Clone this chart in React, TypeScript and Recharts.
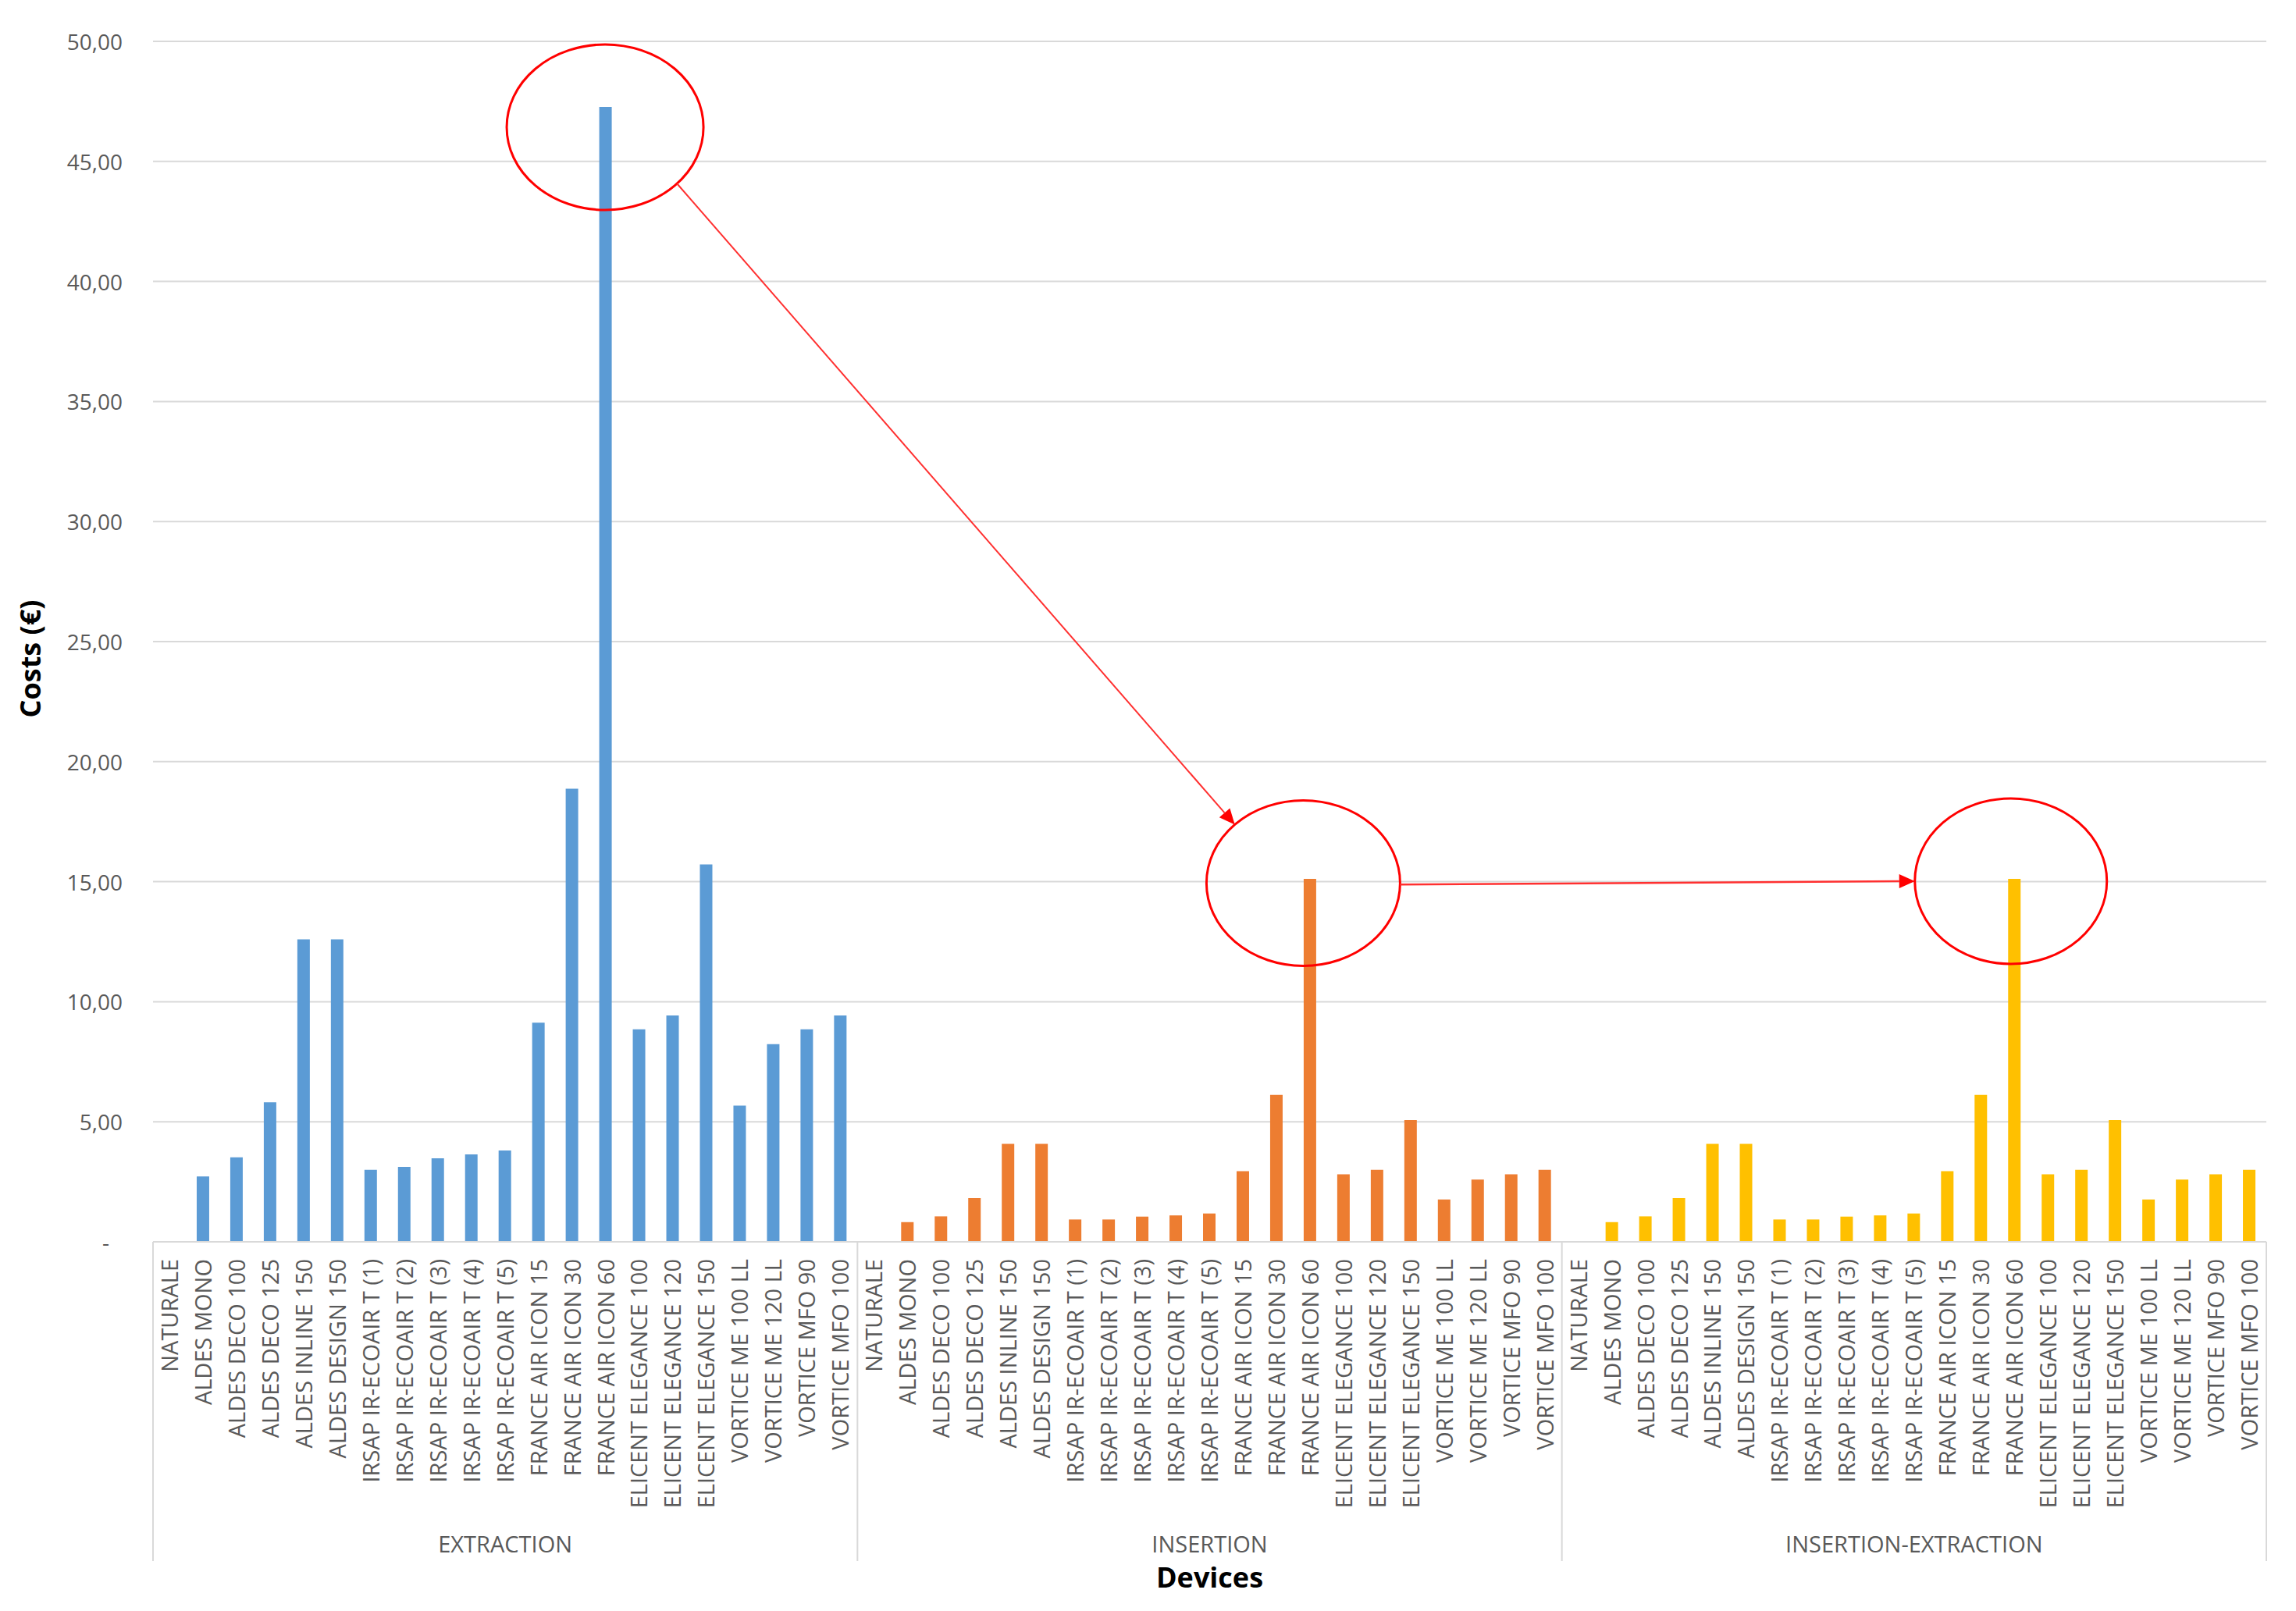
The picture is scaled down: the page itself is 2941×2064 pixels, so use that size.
import React from 'react';
import { BarChart, Bar, XAxis, YAxis, CartesianGrid, Cell, ReferenceDot } from 'recharts';

const devices = [
  'NATURALE', 'ALDES MONO', 'ALDES DECO 100', 'ALDES DECO 125', 'ALDES INLINE 150', 'ALDES DESIGN 150',
  'IRSAP IR-ECOAIR T (1)', 'IRSAP IR-ECOAIR T (2)', 'IRSAP IR-ECOAIR T (3)', 'IRSAP IR-ECOAIR T (4)', 'IRSAP IR-ECOAIR T (5)',
  'FRANCE AIR ICON 15', 'FRANCE AIR ICON 30', 'FRANCE AIR ICON 60',
  'ELICENT ELEGANCE 100', 'ELICENT ELEGANCE 120', 'ELICENT ELEGANCE 150',
  'VORTICE ME 100 LL', 'VORTICE ME 120 LL', 'VORTICE MFO 90', 'VORTICE MFO 100',
];
const groups = ['EXTRACTION', 'INSERTION', 'INSERTION-EXTRACTION'];
const groupColors = ['#5B9BD5', '#ED7D31', '#FFC000'];

const extraction = [0, 2.72, 3.52, 5.81, 12.6, 12.6, 3.0, 3.12, 3.48, 3.64, 3.8, 9.13, 18.87, 47.27, 8.85, 9.43, 15.72, 5.67, 8.23, 8.85, 9.43];
const insertion = [0, 0.82, 1.06, 1.82, 4.08, 4.08, 0.93, 0.93, 1.05, 1.1, 1.18, 2.94, 6.12, 15.12, 2.81, 3.0, 5.07, 1.76, 2.59, 2.81, 3.0];
const insertionExtraction = [0, 0.82, 1.06, 1.82, 4.08, 4.08, 0.93, 0.93, 1.05, 1.1, 1.18, 2.94, 6.12, 15.12, 2.81, 3.0, 5.07, 1.76, 2.59, 2.81, 3.0];
const yTicks = [0, 5, 10, 15, 20, 25, 30, 35, 40, 45, 50];

const seriesByGroup = [extraction, insertion, insertionExtraction];
const data = groups.flatMap((g, gi) =>
  devices.map((d, di) => ({ key: `${g}|${d}`, group: gi, value: seriesByGroup[gi][di] }))
);

const W = 2941;
const H = 2064;
const MARGIN = { top: 53, right: 38, left: 0, bottom: 0 };
const Y_AXIS_W = 196;
const X_AXIS_H = 473;
const BAND = (W - MARGIN.left - MARGIN.right - Y_AXIS_W) / data.length;
const FONT = "'Open Sans', sans-serif";
const TEXT = '#595959';
const GRID = '#d9d9d9';
const RED = '#ff0000';

const XTick = (props: any) => {
  const { x, y, payload, index } = props;
  const [grp, name] = String(payload.value).split('|');
  const n = devices.length;
  const parts: any[] = [];
  parts.push(
    <text key="t" transform={`translate(${x}, ${y + 22}) rotate(-90)`} textAnchor="end" dy="0.36em"
      fontFamily={FONT} fontSize={29} fill={TEXT}>{name}</text>
  );
  if (index % n === 0) {
    const left = x - BAND / 2;
    parts.push(<line key="l" x1={left} x2={left} y1={y} y2={y + 409} stroke={GRID} strokeWidth={2} />);
    parts.push(
      <text key="g" x={left + (n / 2) * BAND} y={y + 386} textAnchor="middle" dominantBaseline="central"
        fontFamily={FONT} fontSize={29} fill={TEXT}>{grp}</text>
    );
  }
  if (index === data.length - 1) {
    const right = x + BAND / 2;
    parts.push(<line key="r" x1={right} x2={right} y1={y} y2={y + 409} stroke={GRID} strokeWidth={2} />);
  }
  return <g>{parts}</g>;
};

const YTick = (props: any) => {
  const { x, y, payload } = props;
  const v = Number(payload.value);
  const label = v === 0 ? '-' : v.toFixed(2).replace('.', ',');
  return (
    <text x={v === 0 ? x - 56 : x - 39} y={y} textAnchor="end" dominantBaseline="central"
      fontFamily={FONT} fontSize={28} fill={TEXT}>{label}</text>
  );
};

const annot: any = {};

const onEllipse = (c: any, rx: number, ry: number, deg: number) => {
  const t = (deg * Math.PI) / 180;
  return { x: c.x + rx * Math.cos(t), y: c.y + ry * Math.sin(t) };
};

const Arrow = ({ from, to, width }: any) => {
  const dx = to.x - from.x;
  const dy = to.y - from.y;
  const len = Math.sqrt(dx * dx + dy * dy);
  const ux = dx / len;
  const uy = dy / len;
  const hl = 20;
  const hw = 9;
  const bx = to.x - ux * hl;
  const by = to.y - uy * hl;
  const pts = `${to.x},${to.y} ${bx - uy * hw},${by + ux * hw} ${bx + uy * hw},${by - ux * hw}`;
  return (
    <g>
      <line x1={from.x} y1={from.y} x2={bx} y2={by} stroke="#ff3030" strokeWidth={width} />
      <polygon points={pts} fill={RED} />
    </g>
  );
};

const E1 = { rx: 126, ry: 106, dx: -1, dy: 26 };
const E2 = { rx: 124, ry: 106, dx: -9, dy: 5.5 };
const E3 = { rx: 123, ry: 106, dx: -5, dy: 3 };

const Ellipse1 = (p: any) => {
  const c = { x: p.cx + E1.dx, y: p.cy + E1.dy };
  annot.c1 = c;
  return <ellipse cx={c.x} cy={c.y} rx={E1.rx} ry={E1.ry} fill="none" stroke={RED} strokeWidth={3} />;
};

const Ellipse2 = (p: any) => {
  const c = { x: p.cx + E2.dx, y: p.cy + E2.dy };
  annot.c2 = c;
  return (
    <g>
      <ellipse cx={c.x} cy={c.y} rx={E2.rx} ry={E2.ry} fill="none" stroke={RED} strokeWidth={3} />
      {annot.c1 && (
        <Arrow from={onEllipse(annot.c1, E1.rx, E1.ry, 43)} to={onEllipse(c, E2.rx, E2.ry, 225)} width={2} />
      )}
    </g>
  );
};

const Ellipse3 = (p: any) => {
  const c = { x: p.cx + E3.dx, y: p.cy + E3.dy };
  return (
    <g>
      <ellipse cx={c.x} cy={c.y} rx={E3.rx} ry={E3.ry} fill="none" stroke={RED} strokeWidth={3} />
      {annot.c2 && (
        <Arrow from={onEllipse(annot.c2, E2.rx, E2.ry, 1)} to={onEllipse(c, E3.rx, E3.ry, 180)} width={2.5} />
      )}
    </g>
  );
};

const peak = 'FRANCE AIR ICON 60';
const peakIdx = devices.indexOf(peak);

export default function App() {
  return (
    <div style={{ position: 'absolute', left: 0, top: 0, width: W, height: H, background: '#fff' }}>
      <BarChart width={W} height={H} data={data} margin={MARGIN} barSize={16}>
        <CartesianGrid vertical={false} stroke={GRID} strokeWidth={2} />
        <XAxis
          dataKey="key"
          type="category"
          interval={0}
          height={X_AXIS_H}
          tickLine={false}
          tickSize={0}
          tickMargin={0}
          axisLine={{ stroke: GRID, strokeWidth: 2 }}
          tick={XTick}
          label={{
            content: (lp: any) => {
              const vb = lp.viewBox;
              return (
                <text x={vb.x + vb.width / 2} y={vb.y + 429} textAnchor="middle" dominantBaseline="central"
                  fontFamily={FONT} fontSize={36} fontWeight="bold" fill="#000">Devices</text>
              );
            },
          }}
        />
        <YAxis
          width={Y_AXIS_W}
          domain={[0, 50]}
          ticks={yTicks}
          axisLine={false}
          tickLine={false}
          tickSize={0}
          tickMargin={0}
          tick={YTick}
          label={{
            content: (lp: any) => {
              const vb = lp.viewBox;
              const cy = vb.y + vb.height / 2 + 22;
              return (
                <text transform={`translate(38, ${cy}) rotate(-90)`} textAnchor="middle" dominantBaseline="central"
                  fontFamily={FONT} fontSize={36} fontWeight="bold" fill="#000">Costs (€)</text>
              );
            },
          }}
        />
        <Bar dataKey="value" isAnimationActive={false}>
          {data.map((d) => (
            <Cell key={d.key} fill={groupColors[d.group]} />
          ))}
        </Bar>
        <ReferenceDot x={`${groups[0]}|${peak}`} y={extraction[peakIdx]} shape={Ellipse1} ifOverflow="visible" />
        <ReferenceDot x={`${groups[1]}|${peak}`} y={insertion[peakIdx]} shape={Ellipse2} ifOverflow="visible" />
        <ReferenceDot x={`${groups[2]}|${peak}`} y={insertionExtraction[peakIdx]} shape={Ellipse3} ifOverflow="visible" />
      </BarChart>
    </div>
  );
}
